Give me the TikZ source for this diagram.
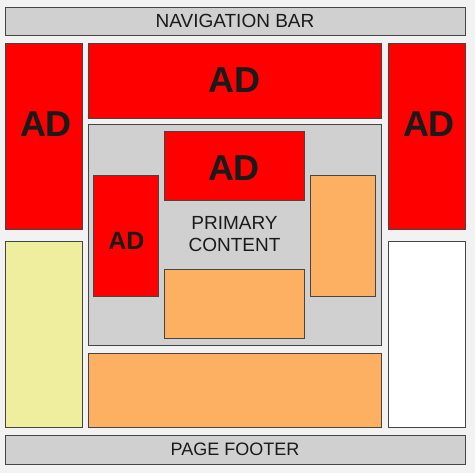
\documentclass[tikz,border=0pt]{standalone}
\usepackage{fontspec}
\setmainfont{Liberation Sans}
\usetikzlibrary{positioning}
\definecolor{pagebg}{HTML}{F2F2F2}
\definecolor{panelgray}{HTML}{D0D0D0}
\definecolor{adred}{HTML}{FF0000}
\definecolor{boxorange}{HTML}{FDB062}
\definecolor{boxyellow}{HTML}{EFEE9F}
\definecolor{edgegray}{HTML}{454545}
\definecolor{inkdark}{HTML}{1A1A1A}
\tikzset{
  panel/.style={
    draw=edgegray,
    line width=0.9pt,
    rectangle,
    inner sep=0pt,
    outer sep=0pt,
    anchor=north west,
    text=inkdark,
    align=center
  },
  bar/.style={
    panel,
    fill=panelgray,
    minimum width=460pt,
    font=\fontsize{19}{22}\selectfont
  },
  adbox/.style={
    panel,
    fill=adred,
    font=\bfseries\fontsize{36}{40}\selectfont
  },
  adlabel/.style={
    inner sep=0pt,
    text=inkdark,
    font=\bfseries\fontsize{36}{40}\selectfont
  },
  orangebox/.style={
    panel,
    fill=boxorange
  }
}

\begin{document}
\begin{tikzpicture}[x=1pt, y=-1pt]
    \fill[pagebg] (0,0) rectangle (475,473);
    \useasboundingbox (0,0) rectangle (475,473);

    \node[bar, minimum height=28pt] (navbar) at (5,7) {NAVIGATION BAR};

    \node[adbox, minimum width=77pt, minimum height=186pt,
      label={[adlabel, xshift=2.5pt, yshift=11.5pt]center:AD}] (adleft) at (5,43) {};
    \node[adbox, minimum width=293pt, minimum height=75pt,
      below right=0pt and 6pt of adleft.north east] (adtop) {AD};
    \node[adbox, minimum width=77pt, minimum height=186pt,
      below right=0pt and 7pt of adtop.north east,
      label={[adlabel, xshift=2.5pt, yshift=11.5pt]center:AD}] (adright) {};

    \node[panel, fill=panelgray, minimum width=293pt, minimum height=221pt,
      font=\fontsize{19}{22}\selectfont,
      below right=6pt and 0pt of adtop.south west] (primary) {PRIMARY\\CONTENT};
    \node[adbox, minimum width=140pt, minimum height=69pt,
      label={[adlabel, yshift=-3pt]center:AD}] (adinner) at (164,131) {};
    \node[adbox, minimum width=65pt, minimum height=121pt,
      label={[adlabel, font=\bfseries\fontsize{25}{28}\selectfont, xshift=1pt, yshift=-5.5pt]center:AD}] (adsmall) at (93,175) {};
    \node[orangebox, minimum width=65pt, minimum height=121pt] (sidebox) at (310,175) {};
    \node[orangebox, minimum width=140pt, minimum height=69pt] (lowbox) at (164,269) {};

    \node[orangebox, minimum width=293pt, minimum height=74pt,
      below right=8pt and 0pt of primary.south west] (widebox) {};
    \node[panel, fill=boxyellow, minimum width=77pt, minimum height=186pt,
      below right=12pt and 0pt of adleft.south west] (leftbox) {};
    \node[panel, fill=white, minimum width=77pt, minimum height=186pt,
      below right=12pt and 0pt of adright.south west] (rightbox) {};

    \node[bar, minimum height=29pt, font=\fontsize{18}{22}\selectfont] (footer) at (5,435) {PAGE FOOTER};
\end{tikzpicture}
\end{document}
